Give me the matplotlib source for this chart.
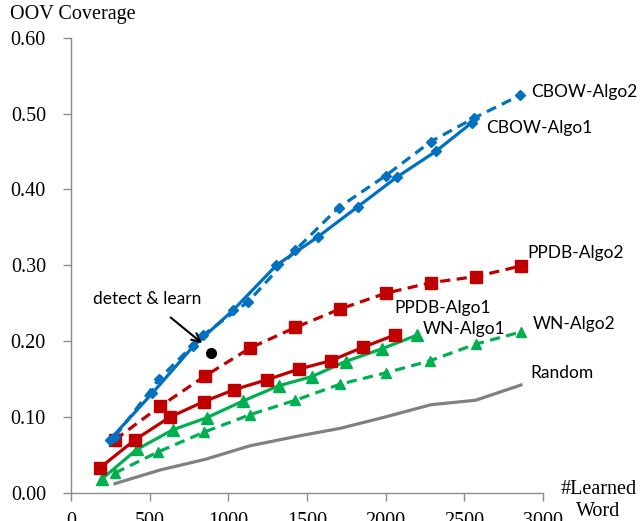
import matplotlib.pyplot as plt

# learned words (x) and OOV coverage (y) for each method
cbow1_x = [248, 516, 777, 1032, 1306, 1567, 1822, 2070, 2318, 2548]
cbow1_y = [0.070, 0.131, 0.193, 0.241, 0.300, 0.337, 0.377, 0.416, 0.450, 0.488]

cbow2_x = [280, 560, 841, 1127, 1427, 1701, 2000, 2287, 2561, 2853]
cbow2_y = [0.074, 0.150, 0.208, 0.252, 0.320, 0.376, 0.418, 0.463, 0.494, 0.524]

ppdb1_x = [185, 408, 631, 843, 1038, 1246, 1448, 1650, 1858, 2059]
ppdb1_y = [0.033, 0.070, 0.100, 0.120, 0.136, 0.149, 0.163, 0.174, 0.192, 0.208]

ppdb2_x = [280, 567, 853, 1140, 1427, 1707, 2000, 2287, 2573, 2860]
ppdb2_y = [0.070, 0.114, 0.154, 0.191, 0.218, 0.242, 0.263, 0.277, 0.285, 0.299]

wn1_x = [196, 418, 648, 864, 1094, 1320, 1529, 1745, 1979, 2202]
wn1_y = [0.018, 0.057, 0.083, 0.099, 0.121, 0.141, 0.153, 0.173, 0.190, 0.208]

wn2_x = [280, 556, 847, 1140, 1427, 1709, 2000, 2282, 2573, 2860]
wn2_y = [0.026, 0.054, 0.080, 0.103, 0.122, 0.143, 0.158, 0.174, 0.196, 0.212]

rand_x = [280, 567, 853, 1140, 1427, 1713, 2000, 2287, 2573, 2860]
rand_y = [0.012, 0.030, 0.044, 0.062, 0.074, 0.085, 0.100, 0.116, 0.122, 0.142]

blue = '#0070C0'
red = '#C00000'
green = '#00B050'
gray = '#808080'
dash = (0, (3.2, 2.0))

fig = plt.figure(figsize=(6.4, 5.21), dpi=100)
ax = fig.add_axes([0.1109, 0.0543, 0.7375, 0.8733])

ax.plot(rand_x, rand_y, color=gray, lw=2.3)
ax.plot(wn2_x, wn2_y, color=green, lw=2.3, ls=dash, marker='^', ms=7)
ax.plot(wn1_x, wn1_y, color=green, lw=2.3, marker='^', ms=8)
ax.plot(ppdb2_x, ppdb2_y, color=red, lw=2.3, ls=dash, marker='s', ms=8)
ax.plot(ppdb1_x, ppdb1_y, color=red, lw=2.3, marker='s', ms=8)
ax.plot(cbow2_x, cbow2_y, color=blue, lw=2.3, ls=dash, marker='D', ms=5)
ax.plot(cbow1_x, cbow1_y, color=blue, lw=2.3, marker='D', ms=5)

# detect & learn point with arrow
ax.plot([892], [0.1846], 'o', color='black', ms=7)
ax.annotate('', xy=(847, 0.1948), xytext=(620, 0.2334),
            arrowprops=dict(arrowstyle='->', color='black', lw=1.5, mutation_scale=15))

lab = dict(family='Lato', fontsize=12.5, va='center', ha='left')
ax.text(2923, 0.529, 'CBOW-Algo2', **lab)
ax.text(2637, 0.481, 'CBOW-Algo1', **lab)
ax.text(2904, 0.316, 'PPDB-Algo2', **lab)
ax.text(2053, 0.244, 'PPDB-Algo1', **lab)
ax.text(2234, 0.216, 'WN-Algo1', **lab)
ax.text(2934, 0.2225, 'WN-Algo2', **lab)
ax.text(2923, 0.158, 'Random', **lab)
ax.text(142, 0.2555, 'detect & learn', **lab)

ax.set_xlim(0, 3000)
ax.set_ylim(0, 0.6)
ax.set_xticks(range(0, 3001, 500))
ax.set_yticks([0, 0.1, 0.2, 0.3, 0.4, 0.5, 0.6])
ax.set_yticklabels(['%.2f' % v for v in ax.get_yticks()])

for s in ['top', 'right']:
    ax.spines[s].set_visible(False)
for s in ['left', 'bottom']:
    ax.spines[s].set_color('#8c8c8c')
    ax.spines[s].set_linewidth(1.0)
ax.tick_params(axis='both', direction='out', length=6, color='#8c8c8c', width=1.0,
               labelsize=14.5)
ax.tick_params(axis='y', pad=12)
ax.tick_params(axis='x', pad=8)
for t in ax.get_xticklabels() + ax.get_yticklabels():
    t.set_family('Liberation Serif')

fig.text(0.0156, 0.973, 'OOV Coverage', family='Liberation Serif', fontsize=14.5,
         ha='left', va='center')
fig.text(0.935, 0.039, '#Learned\nWord', family='Liberation Serif', fontsize=14.5,
         ha='center', va='center', linespacing=1.25)

fig.savefig('out.png', dpi=100)
